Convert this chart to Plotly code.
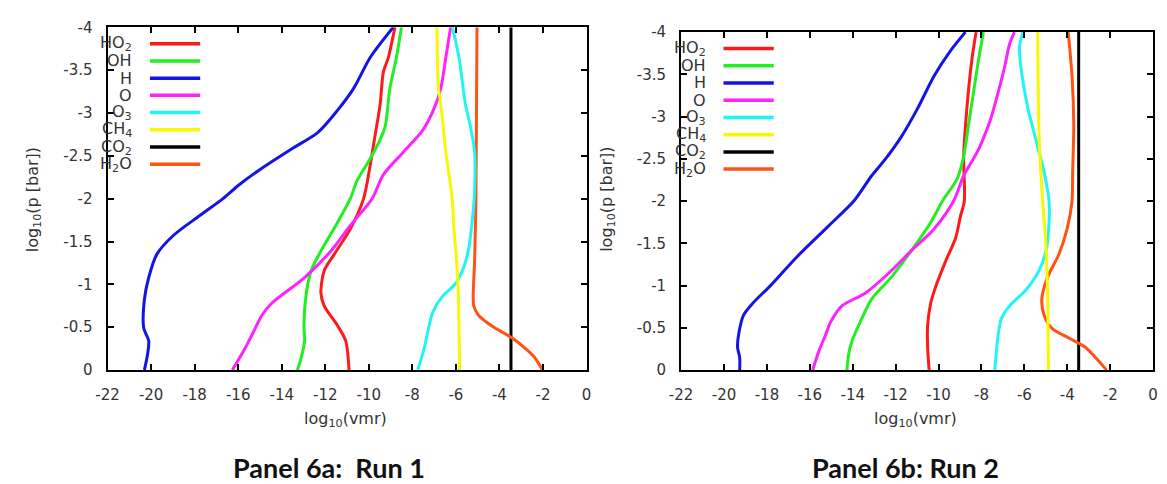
import plotly.graph_objects as go

# ---- pressure levels (log10 p [bar]) and mixing-ratio profiles (log10 vmr) ----
species = ["HO2", "OH", "H", "O", "O3", "CH4", "CO2", "H2O"]
species_labels = ["HO<sub>2</sub>", "OH", "H", "O", "O<sub>3</sub>", "CH<sub>4</sub>", "CO<sub>2</sub>", "H<sub>2</sub>O"]
colors = ["#ff1a1a", "#22ee22", "#1414e6", "#ff22ff", "#22f4f4", "#f8f800", "#000000", "#ff5214"]

# Run 1
r1_HO2_p = [-4.0, -3.65, -3.48, -3.1, -2.74, -2.4, -2.0, -1.65, -1.35, -1.16, -0.9, -0.75, -0.52, -0.34, 0.0]
r1_HO2_v = [-8.8, -9.1, -9.33, -9.48, -9.71, -9.93, -10.24, -10.84, -11.59, -12.05, -12.2, -12.05, -11.44, -11.06, -10.91]
r1_OH_p = [-4.0, -3.65, -3.29, -2.84, -2.69, -2.47, -2.21, -2.0, -1.72, -1.39, -1.16, -0.9, -0.52, -0.34, -0.15, 0.0]
r1_OH_v = [-8.5, -8.73, -9.03, -9.25, -9.48, -9.93, -10.54, -10.85, -11.44, -12.2, -12.65, -12.87, -12.98, -12.95, -13.1, -13.28]
r1_H_p = [-4.0, -3.65, -3.29, -3.03, -2.77, -2.58, -2.33, -2.16, -2.0, -1.8, -1.57, -1.35, -1.08, -0.82, -0.49, -0.34, -0.19, 0.0]
r1_H_v = [-8.88, -9.93, -10.69, -11.44, -12.35, -13.55, -15.06, -15.97, -16.7, -17.78, -18.98, -19.74, -20.11, -20.31, -20.34, -20.11, -20.16, -20.31]
r1_O_p = [-4.0, -3.65, -3.29, -3.06, -2.8, -2.54, -2.28, -2.0, -1.69, -1.39, -1.08, -0.78, -0.64, -0.45, -0.26, 0.0]
r1_O_v = [-6.24, -6.46, -6.69, -6.99, -7.52, -8.43, -9.33, -9.85, -10.84, -11.74, -12.95, -14.46, -14.91, -15.29, -15.67, -16.27]
r1_O3_p = [-4.0, -3.65, -3.1, -2.84, -2.54, -2.0, -1.72, -1.42, -1.2, -1.01, -0.86, -0.67, -0.45, -0.26, 0.0]
r1_O3_v = [-6.16, -5.86, -5.56, -5.33, -5.14, -5.16, -5.26, -5.41, -5.64, -6.01, -6.62, -7.07, -7.29, -7.45, -7.75]
r1_CH4_p = [-4.0, -3.29, -3.1, -2.54, -2.0, -1.65, -1.27, -0.9, 0.0]
r1_CH4_v = [-6.87, -6.8, -6.69, -6.46, -6.17, -6.09, -5.97, -5.89, -5.83]
r1_CO2_p = [-4.0, 0.0]
r1_CO2_v = [-3.47, -3.47]
r1_H2O_p = [-4.0, -2.0, -1.27, -0.75, -0.64, -0.57, -0.49, -0.38, -0.26, -0.15, 0.0]
r1_H2O_v = [-5.03, -5.08, -5.14, -5.18, -4.96, -4.65, -4.2, -3.45, -2.84, -2.39, -2.02]

# Run 2
r2_HO2_p = [-4.0, -3.67, -3.1, -2.53, -2.0, -1.82, -1.56, -1.29, -0.99, -0.8, -0.53, -0.27, 0.0]
r2_HO2_v = [-8.25, -8.45, -8.68, -8.83, -8.8, -8.98, -9.21, -9.67, -10.13, -10.36, -10.51, -10.51, -10.44]
r2_OH_p = [-4.0, -3.67, -3.29, -2.91, -2.53, -2.26, -2.0, -1.75, -1.41, -1.1, -0.84, -0.57, -0.34, -0.19, 0.0]
r2_OH_v = [-7.91, -8.14, -8.37, -8.6, -8.83, -9.14, -9.82, -10.36, -11.28, -12.2, -13.12, -13.65, -14.04, -14.19, -14.27]
r2_H_p = [-4.0, -3.78, -3.48, -3.1, -2.76, -2.49, -2.3, -2.0, -1.71, -1.33, -0.99, -0.8, -0.65, -0.42, -0.27, -0.15, 0.0]
r2_H_v = [-8.75, -9.44, -10.21, -10.97, -11.74, -12.5, -13.12, -13.95, -15.11, -16.64, -17.87, -18.63, -19.09, -19.32, -19.37, -19.27, -19.27]
r2_O_p = [-4.0, -3.86, -3.59, -3.29, -2.95, -2.61, -2.3, -2.0, -1.67, -1.41, -1.14, -0.91, -0.76, -0.57, -0.42, -0.23, 0.0]
r2_O_v = [-6.46, -6.69, -6.92, -7.22, -7.6, -8.14, -8.83, -9.3, -10.21, -11.28, -12.35, -13.42, -14.5, -15.03, -15.26, -15.57, -15.87]
r2_O3_p = [-4.0, -3.82, -3.56, -3.1, -2.72, -2.34, -2.0, -1.75, -1.44, -1.18, -0.95, -0.76, -0.61, -0.42, 0.0]
r2_O3_v = [-6.07, -6.23, -6.15, -5.84, -5.46, -5.08, -4.85, -4.85, -4.97, -5.31, -5.92, -6.69, -7.07, -7.22, -7.38]
r2_CH4_p = [-4.0, -2.72, -2.0, -1.48, -0.91, 0.0]
r2_CH4_v = [-5.38, -5.31, -5.15, -5.0, -4.92, -4.88]
r2_CO2_p = [-4.0, 0.0]
r2_CO2_v = [-3.47, -3.47]
r2_H2O_p = [-4.0, -3.48, -2.91, -2.34, -2.0, -1.67, -1.37, -1.1, -0.84, -0.65, -0.49, -0.38, -0.27, -0.11, 0.0]
r2_H2O_v = [-3.96, -3.78, -3.7, -3.75, -3.78, -4.01, -4.39, -4.92, -5.19, -5.08, -4.7, -3.93, -3.16, -2.55, -2.17]

x_ticks = [-22, -20, -18, -16, -14, -12, -10, -8, -6, -4, -2, 0]
y_ticks = [0, -0.5, -1, -1.5, -2, -2.5, -3, -3.5, -4]
y_tick_text = ["0", "-0.5", "-1", "-1.5", "-2", "-2.5", "-3", "-3.5", "-4"]
captions = ["Panel 6a:  Run 1", "Panel 6b: Run 2"]

runs = [
    [(r1_HO2_v, r1_HO2_p), (r1_OH_v, r1_OH_p), (r1_H_v, r1_H_p), (r1_O_v, r1_O_p),
     (r1_O3_v, r1_O3_p), (r1_CH4_v, r1_CH4_p), (r1_CO2_v, r1_CO2_p), (r1_H2O_v, r1_H2O_p)],
    [(r2_HO2_v, r2_HO2_p), (r2_OH_v, r2_OH_p), (r2_H_v, r2_H_p), (r2_O_v, r2_O_p),
     (r2_O3_v, r2_O3_p), (r2_CH4_v, r2_CH4_p), (r2_CO2_v, r2_CO2_p), (r2_H2O_v, r2_H2O_p)],
]

W, H = 1167, 484
# plot-area boxes in pixels: (left, right, top, bottom)
boxes = [(97, 583, 19, 375), (679, 1158, 24, 375)]
caption_x = [322, 907]

TXT = "#333333"
FONT = "DejaVu Sans"

fig = go.Figure()
annotations = []
shapes = []

for i, (run, box) in enumerate(zip(runs, boxes)):
    left, right, top, bottom = box
    sfx = "" if i == 0 else str(i + 1)
    xa, ya = "x" + sfx, "y" + sfx
    # draw order: CO2 first so coloured profiles sit above it
    order = [6, 7, 0, 1, 2, 3, 4, 5]
    for k in order:
        v, p = run[k]
        fig.add_trace(go.Scatter(
            x=v, y=p, mode="lines", name=species[k], showlegend=False,
            line=dict(color=colors[k], width=3, shape="spline", smoothing=0.8),
            xaxis=xa, yaxis=ya, hoverinfo="skip"))

    axis_common = dict(
        showline=True, linecolor="black", linewidth=2, mirror="allticks",
        ticks="inside", ticklen=6, tickwidth=2, tickcolor="black",
        showgrid=False, zeroline=False,
        tickfont=dict(family=FONT, size=15, color=TXT))
    fig.update_layout(**{
        "xaxis" + sfx: dict(axis_common, domain=[left / W, right / W], range=[-22, 0],
                             tickvals=x_ticks, ticktext=[str(t) for t in x_ticks],
                             anchor=ya, ticklabelstandoff=10),
        "yaxis" + sfx: dict(axis_common, domain=[1 - bottom / H, 1 - top / H], range=[0, -4],
                             tickvals=y_ticks, ticktext=y_tick_text,
                             anchor=xa, ticklabelstandoff=10),
    })

    pw, ph = right - left, bottom - top
    cx = (left + right) / 2
    # axis titles
    annotations.append(dict(
        x=(cx - 2) / W, y=1 - 426 / H, xref="paper", yref="paper",
        xanchor="center", yanchor="middle",
        text="log<sub>10</sub>(vmr)", showarrow=False,
        font=dict(family=FONT, size=16, color=TXT)))
    annotations.append(dict(
        x=(left - 75) / W, y=1 - 198 / H, xref="paper", yref="paper",
        xanchor="center", yanchor="middle",
        text="log<sub>10</sub>(p [bar])", showarrow=False, textangle=-90,
        font=dict(family=FONT, size=16, color=TXT)))
    # caption
    annotations.append(dict(
        x=caption_x[i] / W, y=1 - 476 / H, xref="paper", yref="paper",
        xanchor="center", yanchor="middle",
        text="<b>" + captions[i] + "</b>", showarrow=False,
        font=dict(family="Lato", size=27, color="#111111")))

    # key: label on the left, line sample on the right
    for k in range(len(species)):
        yy = 1 - (17 + 17.9 * k) / ph
        annotations.append(dict(
            x=27 / pw, y=yy, xref=xa + " domain", yref=ya + " domain",
            text=species_labels[k], showarrow=False, xanchor="right", yanchor="middle",
            font=dict(family=FONT, size=16, color=TXT)))
        shapes.append(dict(
            type="line", xref=xa + " domain", yref=ya + " domain",
            x0=43 / pw, x1=94 / pw, y0=yy, y1=yy,
            line=dict(color=colors[k], width=3.5)))

fig.update_layout(
    width=W, height=H, margin=dict(l=0, r=0, t=0, b=0),
    paper_bgcolor="white", plot_bgcolor="white",
    annotations=annotations, shapes=shapes, showlegend=False)

fig.write_html("out.html")
